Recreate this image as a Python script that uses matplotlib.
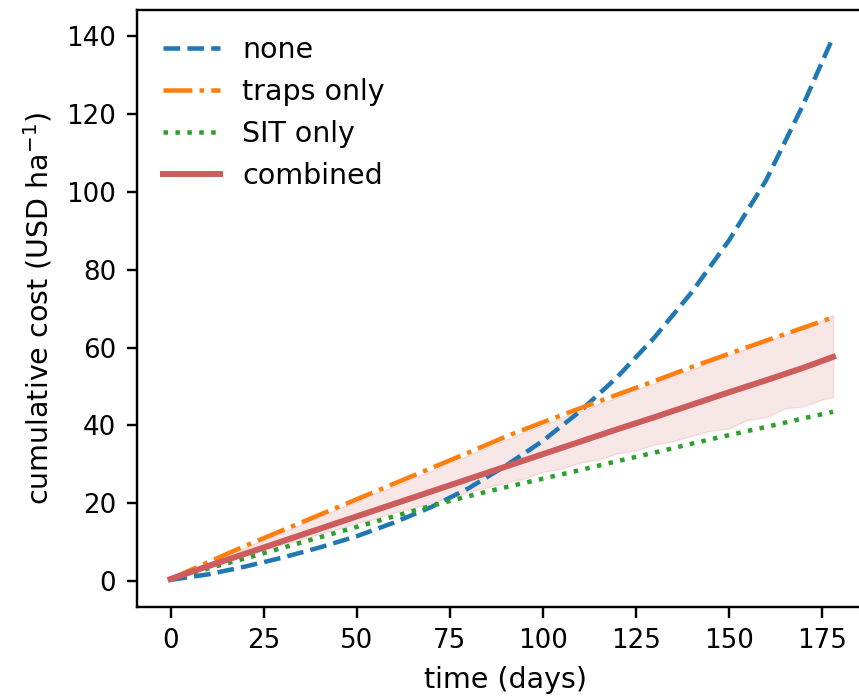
"""Cumulative control cost over time for four strategies."""

import matplotlib.pyplot as plt

# line data (read every 10 days, last point at the end of the run)
days = [0, 10, 20, 30, 40, 50, 60, 70, 80, 90,
        100, 110, 120, 130, 140, 150, 160, 170, 178]
cost_none = [0.3, 1.7, 3.7, 6.0, 8.6, 11.5, 15.0, 19.0, 23.8, 29.6,
             36.0, 43.6, 52.4, 62.6, 74.2, 87.5, 103.0, 122.5, 139.8]
cost_traps = [0.5, 4.8, 9.0, 13.0, 17.0, 21.0, 25.0, 29.0, 33.0, 37.1,
              40.8, 44.4, 47.9, 51.4, 55.0, 58.4, 61.8, 65.1, 67.8]
cost_sit = [0.5, 3.2, 5.8, 8.5, 11.2, 13.9, 16.6, 19.3, 21.8, 24.1,
            26.3, 28.5, 30.8, 33.0, 35.3, 37.5, 39.6, 41.8, 43.5]
cost_combined = [0.5, 3.8, 7.0, 10.2, 13.4, 16.6, 19.8, 23.0, 26.2, 29.4,
                 32.6, 35.8, 39.0, 42.1, 45.3, 48.5, 51.6, 54.8, 57.6]

# uncertainty band of the combined strategy (read every 5 days)
band_days = list(range(0, 176, 5)) + [178]
band_upper = [0.6, 2.7, 4.6, 6.7, 8.7, 10.6, 12.6, 14.5, 16.5, 18.6,
              20.4, 22.5, 24.3, 26.4, 28.3, 30.5, 32.3, 34.4, 36.3, 38.3,
              40.0, 42.0, 43.6, 45.5, 47.2, 49.2, 50.8, 52.7, 54.3, 56.3,
              57.9, 59.9, 61.4, 63.4, 64.8, 66.9, 68.4]
band_lower = [0.5, 2.3, 3.9, 5.1, 6.6, 7.8, 9.4, 10.6, 12.1, 13.4,
              14.9, 16.0, 17.6, 18.7, 20.2, 21.3, 22.9, 24.0, 25.3, 26.3,
              28.0, 28.9, 30.4, 31.2, 32.8, 33.6, 35.1, 35.9, 37.3, 38.6,
              39.2, 41.4, 42.1, 44.3, 44.9, 46.6, 47.3]


def main() -> None:
    plt.rcParams["font.size"] = 9.5
    plt.rcParams["xtick.labelsize"] = 8.7
    plt.rcParams["ytick.labelsize"] = 8.7
    fig = plt.figure(figsize=(859 / 216, 698 / 216), dpi=216)
    # the right edge of the axes runs past the image, as in the reference
    ax = fig.add_axes([0.1595, 0.1304, 0.858, 0.8553])

    ax.fill_between(band_days, band_lower, band_upper,
                    color="indianred", alpha=0.15, linewidth=0.5)
    ax.plot(days, cost_none, "--", color="C0", lw=1.5, label="none")
    ax.plot(days, cost_traps, "-.", color="C1", lw=1.5, label="traps only")
    ax.plot(days, cost_sit, ":", color="C2", lw=1.5, label="SIT only")
    ax.plot(days, cost_combined, "-", color="indianred", lw=2.0,
            label="combined")

    ax.set_xlim(-9, 189)
    ax.set_xticks([0, 25, 50, 75, 100, 125, 150, 175])
    ax.set_yticks([0, 20, 40, 60, 80, 100, 120, 140])
    ax.set_xlabel("time (days)")
    ax.set_ylabel("cumulative cost (USD ha$^{-1}$)")
    ax.legend(loc="upper left", frameon=False)

    fig.savefig("out.png", dpi=216)
    plt.close(fig)


if __name__ == "__main__":
    main()
